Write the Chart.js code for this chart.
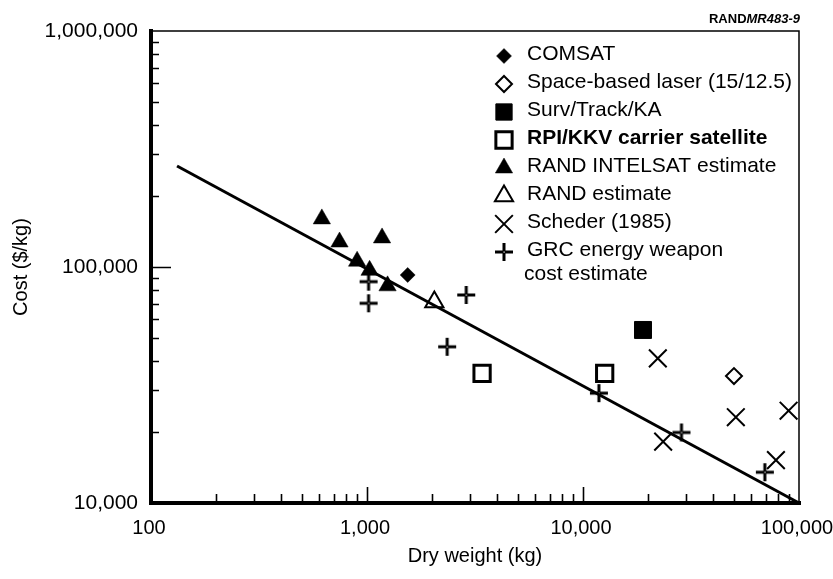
<!DOCTYPE html>
<html>
<head>
<meta charset="utf-8">
<script src="https://cdn.jsdelivr.net/npm/chart.js@4/dist/chart.umd.min.js"></script>
<style>
  html, body { margin: 0; padding: 0; background: #fff; }
  #wrap { width: 833px; height: 579px; }
</style>
</head>
<body>
<div id="wrap"><canvas id="c" width="833" height="579"></canvas></div>
<script>
// Dry weight (kg) and cost ($/kg) for each source
const comsatWeight    = [1543];
const comsatCost      = [92500];
const laserWeight     = [50000];
const laserCost       = [34500];
const survWeight      = [18960];
const survCost        = [54100];
const rpiWeight       = [3410, 12600];
const rpiCost         = [35400, 35400];
const intelsatWeight  = [618, 746, 900, 1028, 1174, 1245];
const intelsatCost    = [159900, 127600, 105800, 96800, 132800, 83200];
const randWeight      = [2050];
const randCost        = [71000];
const schederWeight   = [22200, 23500, 51000, 89500, 78200];
const schederCost     = [41000, 18200, 23100, 24600, 15200];
const grcWeight       = [1017, 1017, 2880, 2350, 11850, 28560, 69500];
const grcCost         = [86700, 70200, 76100, 45900, 29200, 19900, 13500];

// Cost-estimating relationship (fitted line)
const fitWeight       = [132, 100000];
const fitCost         = [268000, 10000];

// Axis tick labels
const xTickValues = [100, 1000, 10000, 100000];
const yTickValues = [10000, 100000, 1000000];

const FONT = '"Liberation Sans", Arial, Helvetica, sans-serif';
const pts = (xs, ys) => xs.map((x, i) => ({ x, y: ys[i] }));

// Plus marker with a small open centre
const plusMark = (() => {
  const c = document.createElement('canvas');
  c.width = 20; c.height = 20;
  const g = c.getContext('2d');
  g.fillStyle = '#000';
  g.fillRect(8.5, 1, 3, 18);
  g.fillRect(1, 8.5, 18, 3);
  g.fillStyle = '#fff';
  g.fillRect(9.5, 9.5, 1.2, 1.2);
  return c;
})();

function series(label, xs, ys, style, radius, filled, borderWidth, extra) {
  return Object.assign({
    label,
    data: pts(xs, ys),
    pointStyle: style,
    pointRadius: radius,
    pointHoverRadius: radius,
    backgroundColor: filled ? '#000' : '#fff',
    borderColor: '#000',
    pointBorderWidth: borderWidth,
    borderWidth: borderWidth,
    showLine: false,
    clip: false,
    inLegend: true
  }, extra || {});
}

const datasets = [
  {
    label: 'Fit',
    data: pts(fitWeight, fitCost),
    showLine: true,
    borderColor: '#000',
    borderWidth: 3,
    pointRadius: 0,
    fill: false,
    clip: false,
    inLegend: false
  },
  series('COMSAT', comsatWeight, comsatCost, 'rectRot', 7.5, true, 0.5),
  series('Space-based laser (15/12.5)', laserWeight, laserCost, 'rectRot', 8, false, 2),
  series('Surv/Track/KA', survWeight, survCost, 'rect', 12, true, 1),
  series('RPI/KKV carrier satellite', rpiWeight, rpiCost, 'rect', 11.5, false, 3, { legendBold: true }),
  series('RAND INTELSAT estimate', intelsatWeight, intelsatCost, 'triangle', 10, true, 0.5),
  series('RAND estimate', randWeight, randCost, 'triangle', 10.5, false, 2),
  series('Scheder (1985)', schederWeight, schederCost, 'crossRot', 12.5, false, 2),
  series('GRC energy weapon cost estimate', grcWeight, grcCost, plusMark, 9, false, 0,
         { legendLines: ['GRC energy weapon', 'cost estimate'] })
];

// Frame: heavy left/bottom axes, light top/right border, inward log ticks
const axisFrame = {
  id: 'axisFrame',
  beforeDatasetsDraw(chart) {
    const { ctx, chartArea: a, scales: { x, y } } = chart;
    ctx.save();
    ctx.strokeStyle = '#000';
    ctx.lineWidth = 1.5;
    ctx.beginPath();
    ctx.moveTo(a.left, a.top);
    ctx.lineTo(a.right, a.top);
    ctx.lineTo(a.right, a.bottom);
    ctx.stroke();

    ctx.lineWidth = 1.6;
    ctx.beginPath();
    for (const d of [100, 1000, 10000]) {
      for (let m = 1; m <= 9; m++) {
        const v = d * m;
        if (v <= 100) continue;
        const px = Math.round(x.getPixelForValue(v)) + 0.5;
        const len = m === 1 ? 16 : 9;
        ctx.moveTo(px, a.bottom);
        ctx.lineTo(px, a.bottom - len);
      }
    }
    for (const d of [10000, 100000]) {
      for (let m = 1; m <= 9; m++) {
        const v = d * m;
        if (v <= 10000) continue;
        const py = Math.round(y.getPixelForValue(v)) + 0.5;
        const len = m === 1 ? 20 : 8;
        ctx.moveTo(a.left, py);
        ctx.lineTo(a.left + len, py);
      }
    }
    ctx.stroke();

    ctx.lineWidth = 4;
    ctx.lineCap = 'square';
    ctx.beginPath();
    ctx.moveTo(a.left, a.top);
    ctx.lineTo(a.left, a.bottom);
    ctx.lineTo(a.right, a.bottom);
    ctx.stroke();
    ctx.restore();
  }
};

// Legend inside the plot, upper right, plus figure number
const insetLegend = {
  id: 'insetLegend',
  afterDraw(chart) {
    const { ctx, chartArea: a } = chart;
    const markX = 504, textX = 527;
    let rowY = a.top + 23;
    ctx.save();
    ctx.textBaseline = 'middle';
    ctx.textAlign = 'left';
    ctx.fillStyle = '#000';
    chart.data.datasets.forEach(ds => {
      if (!ds.inLegend) return;
      ctx.save();
      ctx.fillStyle = ds.backgroundColor;
      ctx.strokeStyle = ds.borderColor;
      ctx.lineWidth = ds.pointBorderWidth;
      Chart.helpers.drawPoint(ctx, {
        pointStyle: ds.pointStyle,
        radius: ds.pointStyle === 'rect' ? 11.5 : ds.pointRadius,
        rotation: 0,
        borderWidth: ds.pointBorderWidth
      }, markX, rowY + 2);
      ctx.restore();
      ctx.fillStyle = '#000';
      ctx.font = (ds.legendBold ? 'bold ' : '') + '21px ' + FONT;
      const lines = ds.legendLines || [ds.label];
      lines.forEach((ln, i) => ctx.fillText(ln, i ? textX - 3 : textX, rowY + i * 24));
      rowY += 28;
    });

    ctx.textAlign = 'left';
    ctx.textBaseline = 'alphabetic';
    ctx.font = 'bold 13px ' + FONT;
    const w1 = ctx.measureText('RAND').width;
    ctx.font = 'italic bold 13px ' + FONT;
    const w2 = ctx.measureText('MR483-9').width;
    const x0 = 800 - w1 - w2;
    ctx.font = 'bold 13px ' + FONT;
    ctx.fillText('RAND', x0, 23);
    ctx.font = 'italic bold 13px ' + FONT;
    ctx.fillText('MR483-9', x0 + w1, 23);
    ctx.restore();
  }
};

const fmt = v => Number(v).toLocaleString('en-US');

new Chart(document.getElementById('c'), {
  type: 'scatter',
  data: { datasets },
  options: {
    responsive: false,
    animation: false,
    devicePixelRatio: 1,
    layout: { padding: { top: 31, right: 34, left: 0, bottom: 0 } },
    plugins: { legend: { display: false }, tooltip: { enabled: false } },
    scales: {
      x: {
        type: 'logarithmic',
        position: 'bottom',
        min: 100, max: 100000,
        afterBuildTicks: s => { s.ticks = xTickValues.map(v => ({ value: v })); },
        afterFit: s => { s.height = 76; s.paddingLeft = 0; s.paddingRight = 0; },
        grid: { display: false, drawTicks: false },
        border: { display: false },
        ticks: { callback: fmt, font: { family: FONT, size: 20 }, color: '#000', padding: 13, labelOffset: -2, maxRotation: 0, autoSkip: false },
        title: { display: true, text: 'Dry weight (kg)', color: '#000', font: { family: FONT, size: 20 }, padding: { top: 0, bottom: 11 } }
      },
      y: {
        type: 'logarithmic',
        position: 'left',
        min: 10000, max: 1000000,
        afterBuildTicks: s => { s.ticks = yTickValues.map(v => ({ value: v })); },
        afterFit: s => { s.width = 151; s.paddingTop = 0; s.paddingBottom = 0; },
        grid: { display: false, drawTicks: false },
        border: { display: false },
        ticks: { callback: fmt, font: { family: FONT, size: 21 }, color: '#000', padding: 13, autoSkip: false },
        title: { display: true, text: 'Cost ($/kg)', color: '#000', font: { family: FONT, size: 20 }, padding: { top: 9, bottom: 0 } }
      }
    }
  },
  plugins: [axisFrame, insetLegend]
});
</script>
</body>
</html>
